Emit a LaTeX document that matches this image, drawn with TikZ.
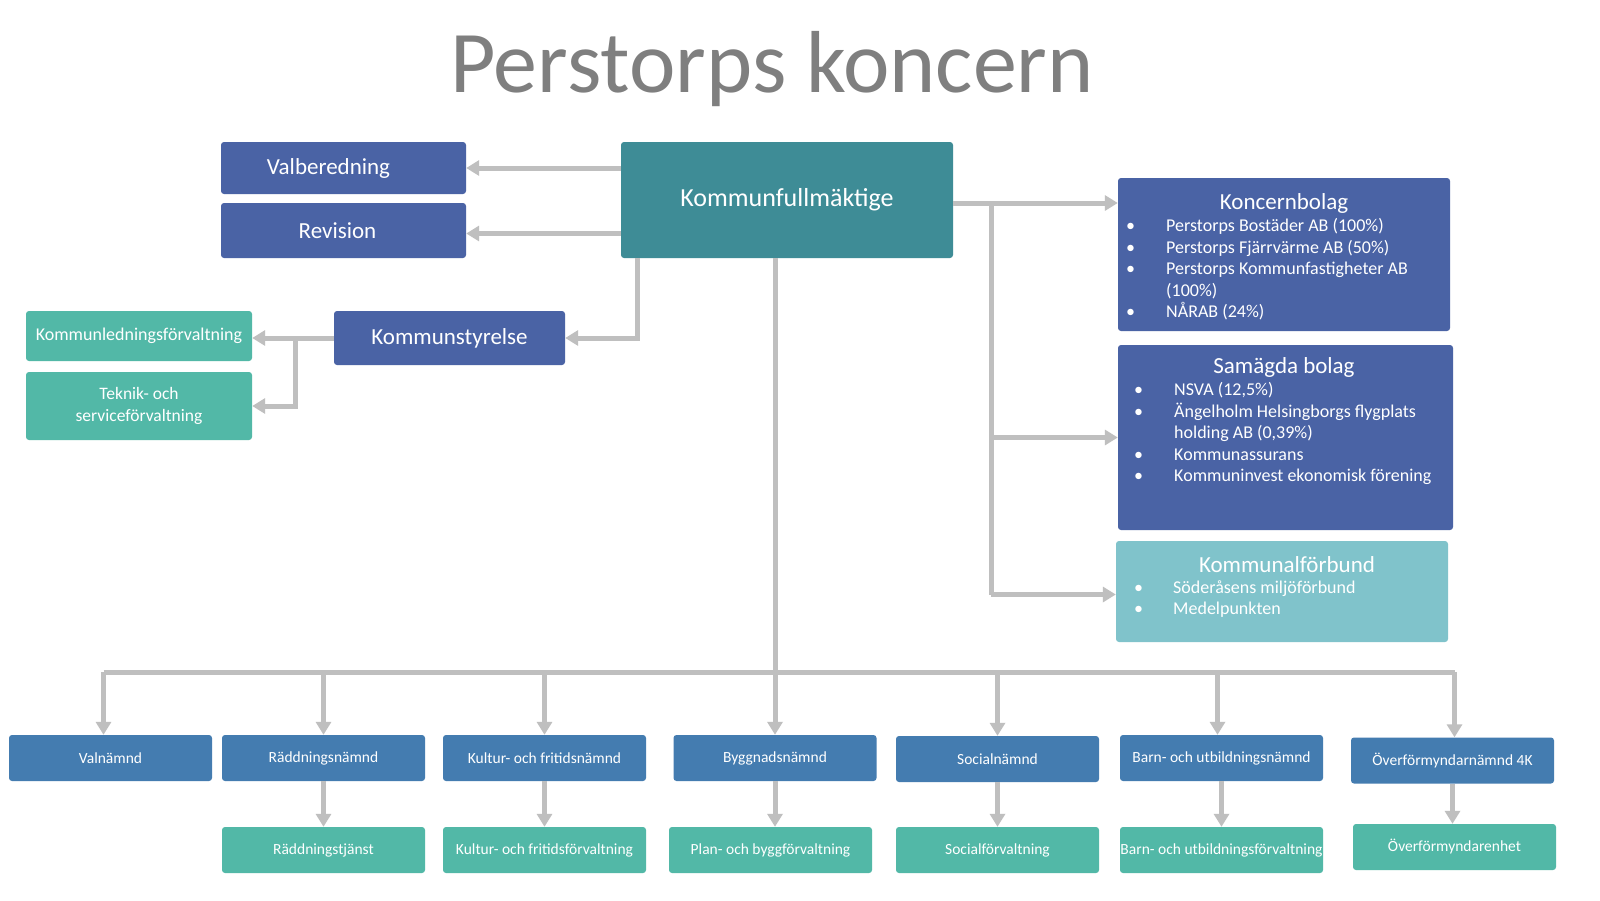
\documentclass[tikz,border=0pt]{standalone}
\usepackage{fontspec}
\setmainfont{Carlito}
\usetikzlibrary{arrows.meta}
\definecolor{dblue}{HTML}{4A63A5}
\definecolor{kteal}{HTML}{3E8C96}
\definecolor{kgreen}{HTML}{52B8A7}
\definecolor{lteal}{HTML}{80C3CB}
\definecolor{bblue}{HTML}{447CB0}
\definecolor{cgray}{HTML}{BFBFBF}
\definecolor{tgray}{HTML}{7F7F7F}
\tikzset{
  box/.style={rectangle, rounded corners=3pt, draw=none, text=white, inner sep=2pt, align=center},
  conn/.style={draw=cgray, line width=5pt, -{Triangle[width=15pt,length=13pt]}},
  bus/.style={draw=cgray, line width=5pt},
}
\begin{document}
\begin{tikzpicture}[x=1pt,y=-1pt]
\useasboundingbox (0,0) rectangle (1600,900);
\fill[white] (0,0) rectangle (1600,900);
\node[anchor=base, text=tgray, font=\fontsize{88}{92}\selectfont] (title) at (772,92) {Perstorps koncern};

% top boxes
\node[box, fill=dblue, minimum width=245pt, minimum height=52pt, font=\fontsize{23}{26}\selectfont] (val) at (343.5,168) {\hspace*{-30pt}Valberedning};
\node[box, fill=dblue, minimum width=245pt, minimum height=55pt, font=\fontsize{23}{26}\selectfont] (rev) at (343.5,230.5) {\hspace*{-12pt}Revision};
\node[box, fill=kteal, minimum width=332pt, minimum height=116pt, font=\fontsize{26}{30}\selectfont] (kf) at (787,200) {Kommunfullmäktige};
\node[box, fill=dblue, minimum width=231pt, minimum height=54pt, font=\fontsize{23}{26}\selectfont] (ks) at (449.5,338) {Kommunstyrelse};
\node[box, fill=kgreen, minimum width=226pt, minimum height=50pt, font=\fontsize{18}{21}\selectfont] (kl) at (139,336) {Kommunledningsförvaltning};
\node[box, fill=kgreen, minimum width=226pt, minimum height=68pt, font=\fontsize{17.5}{22}\selectfont] (tek) at (139,406) {Teknik- och\\serviceförvaltning};

% right boxes
\node[box, fill=dblue, minimum width=332pt, minimum height=153pt] (kb) at (1284,254.5) {};
\node[text=white, font=\fontsize{23}{26}\selectfont] (kbt) at (1284,203) {Koncernbolag};
\node[text=white, anchor=north west, align=left, inner sep=0pt, font=\fontsize{18}{21.5}\selectfont] (kbl) at (1126,218.5) {%
\makebox[40pt][l]{•}Perstorps Bostäder AB (100\%)\\
\makebox[40pt][l]{•}Perstorps Fjärrvärme AB (50\%)\\
\makebox[40pt][l]{•}Perstorps Kommunfastigheter AB\\
\makebox[40pt][l]{}(100\%)\\
\makebox[40pt][l]{•}NÅRAB (24\%)};

\node[box, fill=dblue, minimum width=335pt, minimum height=185pt] (sb) at (1285.5,437.5) {};
\node[text=white, font=\fontsize{23}{26}\selectfont] (sbt) at (1284,367) {Samägda bolag};
\node[text=white, anchor=north west, align=left, inner sep=0pt, font=\fontsize{18}{21.5}\selectfont] (sbl) at (1134,382.5) {%
\makebox[40pt][l]{•}NSVA (12,5\%)\\
\makebox[40pt][l]{•}Ängelholm Helsingborgs flygplats\\
\makebox[40pt][l]{}holding AB (0,39\%)\\
\makebox[40pt][l]{•}Kommunassurans\\
\makebox[40pt][l]{•}Kommuninvest ekonomisk förening};

\node[box, fill=lteal, minimum width=332pt, minimum height=101pt] (kfb) at (1282,591.5) {};
\node[text=white, font=\fontsize{23}{26}\selectfont] (kfbt) at (1287,564.5) {Kommunalförbund};
\node[text=white, anchor=north west, align=left, inner sep=0pt, font=\fontsize{18}{21.5}\selectfont] (kfbl) at (1134,580.5) {%
\makebox[39pt][l]{•}Söderåsens miljöförbund\\
\makebox[39pt][l]{•}Medelpunkten};

% bottom row nämnder
\tikzset{nbox/.style={box, fill=bblue, inner xsep=0pt, minimum width=203pt, minimum height=46pt, font=\fontsize{15.5}{18}\selectfont},
         fbox/.style={box, fill=kgreen, inner xsep=0pt, minimum width=203pt, minimum height=46pt, font=\fontsize{15.5}{18}\selectfont}}
\node[nbox] (n1) at (110.5,758) {Valnämnd};
\node[nbox] (n2) at (323.5,758) {Räddningsnämnd};
\node[nbox] (n3) at (544.5,758) {Kultur- och fritidsnämnd};
\node[nbox] (n4) at (775,758) {Byggnadsnämnd};
\node[nbox] (n5) at (997.5,759) {Socialnämnd};
\node[nbox] (n6) at (1221.5,758) {Barn- och utbildningsnämnd};
\node[nbox] (n7) at (1452.5,760.5) {Överförmyndarnämnd 4K};

\node[fbox] (f2) at (323.5,850) {Räddningstjänst};
\node[fbox] (f3) at (544.5,850) {Kultur- och fritidsförvaltning};
\node[fbox] (f4) at (770.5,850) {Plan- och byggförvaltning};
\node[fbox] (f5) at (997.5,850) {Socialförvaltning};
\node[fbox] (f6) at (1221.5,850) {Barn- och utbildningsförvaltning};
\node[fbox] (f7) at (1454.5,847) {Överförmyndarenhet};

% connectors top
\draw[conn] (kf.west |- val) -- (val.east);
\draw[conn] ([yshift=-3pt]kf.west |- rev) -- ([yshift=-3pt]rev.east);
\draw[conn] ([xshift=17pt]kf.south west) |- (ks.east);
\draw[conn] (ks.west) -- (ks.west -| kl.east);
\coordinate (ksj) at (295,338);
\draw[conn] (ksj) |- (tek.east);

% right
\coordinate (rj) at (991,203);
\draw[conn] (kf.east |- rj) -- (rj -| kb.west);
\draw[conn] (rj) |- (sb.west);
\draw[conn] ([yshift=-3pt]rj |- kfb.west) -- ([yshift=-3pt]kfb.west);
\draw[bus] (rj) -- ([yshift=-3pt]rj |- kfb.west);

% bottom
\coordinate (bus) at (775,672);
\draw[bus] (bus |- kf.south) -- (bus);
\draw[bus] ([xshift=-7pt]bus -| n1.north) -- ([xshift=2pt]bus -| n7.north);
\draw[conn] ([xshift=-7pt]bus -| n1.north) -- ([xshift=-7pt]n1.north);
\foreach \n in {n2,n3,n4,n5} {\draw[conn] (bus -| \n.north) -- (\n.north);}
\draw[conn] ([xshift=-4pt]bus -| n6.north) -- ([xshift=-4pt]n6.north);
\draw[conn] ([xshift=2pt]bus -| n7.north) -- ([xshift=2pt]n7.north);

\foreach \a/\b in {n2/f2,n3/f3,n4/f4,n5/f5,n6/f6,n7/f7} {\draw[conn] (\a.south) -- (\a.south |- \b.north);}
\end{tikzpicture}
\end{document}
